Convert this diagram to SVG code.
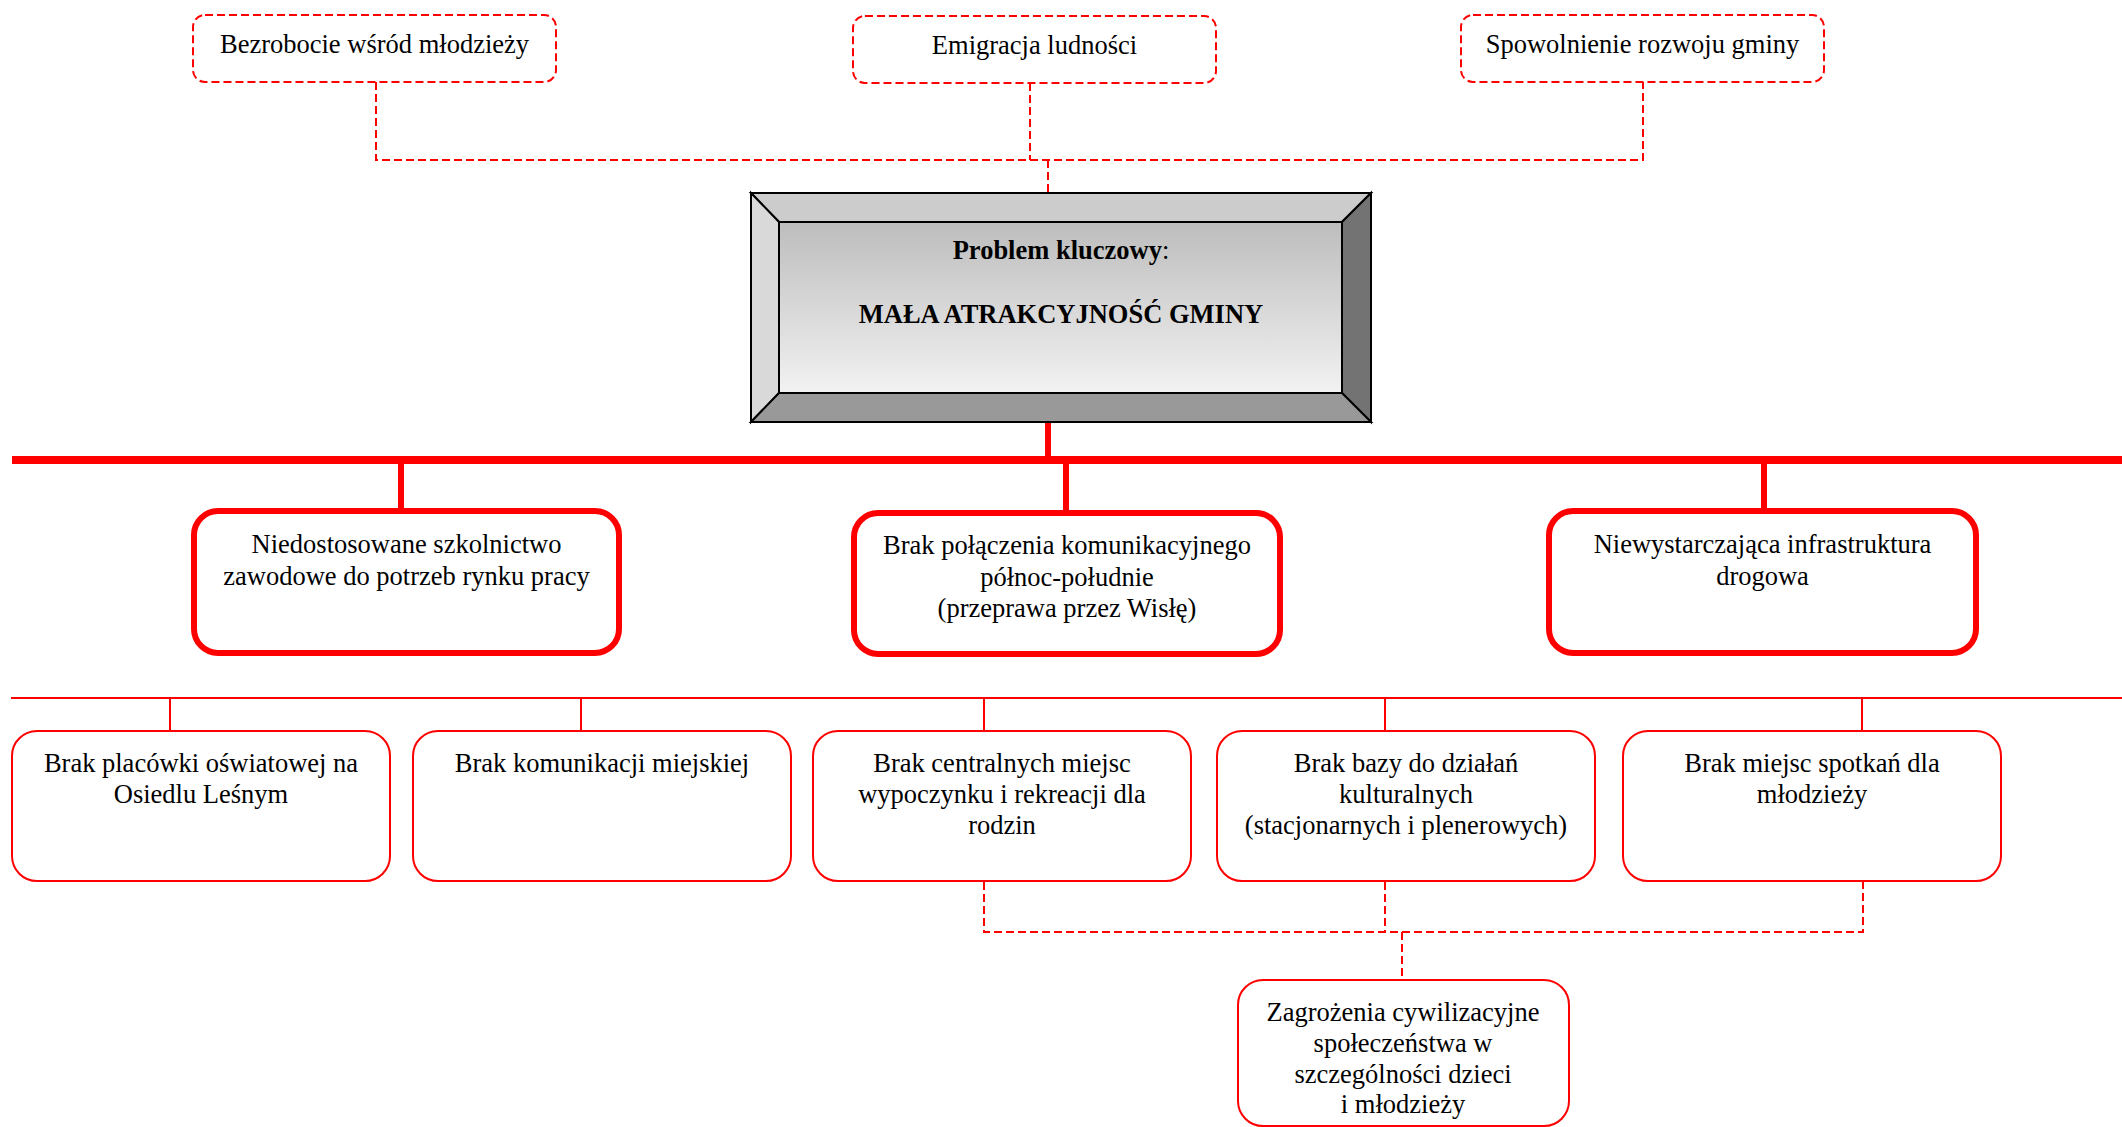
<svg xmlns="http://www.w3.org/2000/svg" width="2122" height="1127" viewBox="0 0 2122 1127">
<style>
text{font-family:"Liberation Serif","Times New Roman",serif;font-size:26.5px;fill:#000;text-anchor:middle}
.b{font-weight:bold}
.dashbox{fill:#fff;stroke:#ff0000;stroke-width:2;stroke-dasharray:8 4}
.dash{fill:none;stroke:#ff0000;stroke-width:2;stroke-dasharray:8 4}
.thick{fill:#fff;stroke:#ff0000;stroke-width:6}
.thin{fill:#fff;stroke:#ff0000;stroke-width:2}
.bar{stroke:#ff0000;stroke-width:8;fill:none}
.vbar{stroke:#ff0000;stroke-width:6;fill:none}
.tline{stroke:#ff0000;stroke-width:2;fill:none}
.bev{stroke:#000;stroke-width:2;stroke-linejoin:miter}
</style>
<defs>
<linearGradient id="g" x1="0" y1="0" x2="0" y2="1">
<stop offset="0" stop-color="#bdbdbd"/>
<stop offset="1" stop-color="#f2f2f2"/>
</linearGradient>
</defs>
<rect width="2122" height="1127" fill="#fff"/>
<g id="connectors">
<path class="dash" d="M376 82V160H1643V82M1030 83V160M1048 160V193"/>
<path class="bar" d="M12 460H2122"/>
<path class="vbar" d="M1048 422V457"/>
<path class="vbar" d="M401 464V511M1066 464V513M1764 464V511"/>
<path class="tline" d="M11 698H2122M170 698V731M581 698V731M984 698V731M1385 698V731M1862 698V731"/>
<path class="dash" d="M984 882V932H1863V882M1385 882V932M1402 932V980"/>
</g>
<g id="n-bezrobocie">
<rect class="dashbox" x="193" y="15" width="363" height="67" rx="12"/>
<text x="374.5" y="53">Bezrobocie wśród młodzieży</text>
</g>
<g id="n-emigracja">
<rect class="dashbox" x="853" y="16" width="363" height="67" rx="12"/>
<text x="1034.5" y="54">Emigracja ludności</text>
</g>
<g id="n-spowolnienie">
<rect class="dashbox" x="1461" y="15" width="363" height="67" rx="12"/>
<text x="1642.5" y="53">Spowolnienie rozwoju gminy</text>
</g>
<g id="n-problem">
<polygon class="bev" fill="#cccccc" points="751,193 1371,193 1342,222 779,222"/>
<polygon class="bev" fill="#d9d9d9" points="751,193 779,222 779,393 751,422"/>
<polygon class="bev" fill="#737373" points="1371,193 1371,422 1342,393 1342,222"/>
<polygon class="bev" fill="#999999" points="751,422 779,393 1342,393 1371,422"/>
<rect class="bev" fill="url(#g)" x="779" y="222" width="563" height="171"/>
<text x="1061" y="259"><tspan class="b">Problem kluczowy</tspan>:</text>
<text class="b" x="1061" y="323">MAŁA ATRAKCYJNOŚĆ GMINY</text>
</g>
<g id="n-szkolnictwo">
<rect class="thick" x="194" y="511" width="425" height="142" rx="24"/>
<text x="406.5" y="553">Niedostosowane szkolnictwo</text>
<text x="406.5" y="585">zawodowe do potrzeb rynku pracy</text>
</g>
<g id="n-polaczenie">
<rect class="thick" x="854" y="513" width="426" height="141" rx="24"/>
<text x="1067" y="554">Brak połączenia komunikacyjnego</text>
<text x="1067" y="586">północ-południe</text>
<text x="1067" y="617">(przeprawa przez Wisłę)</text>
</g>
<g id="n-infrastruktura">
<rect class="thick" x="1549" y="511" width="427" height="142" rx="24"/>
<text x="1762.5" y="553">Niewystarczająca infrastruktura</text>
<text x="1762.5" y="585">drogowa</text>
</g>
<g id="n-placowka">
<rect class="thin" x="12" y="731" width="378" height="150" rx="25"/>
<text x="201" y="772">Brak placówki oświatowej na</text>
<text x="201" y="803">Osiedlu Leśnym</text>
</g>
<g id="n-komunikacja">
<rect class="thin" x="413" y="731" width="378" height="150" rx="25"/>
<text x="602" y="772">Brak komunikacji miejskiej</text>
</g>
<g id="n-wypoczynek">
<rect class="thin" x="813" y="731" width="378" height="150" rx="25"/>
<text x="1002" y="772">Brak centralnych miejsc</text>
<text x="1002" y="803">wypoczynku i rekreacji dla</text>
<text x="1002" y="834">rodzin</text>
</g>
<g id="n-kultura">
<rect class="thin" x="1217" y="731" width="378" height="150" rx="25"/>
<text x="1406" y="772">Brak bazy do działań</text>
<text x="1406" y="803">kulturalnych</text>
<text x="1406" y="834">(stacjonarnych i plenerowych)</text>
</g>
<g id="n-spotkania">
<rect class="thin" x="1623" y="731" width="378" height="150" rx="25"/>
<text x="1812" y="772">Brak miejsc spotkań dla</text>
<text x="1812" y="803">młodzieży</text>
</g>
<g id="n-zagrozenia">
<rect class="thin" x="1238" y="980" width="331" height="146" rx="25"/>
<text x="1403" y="1021">Zagrożenia cywilizacyjne</text>
<text x="1403" y="1052">społeczeństwa w</text>
<text x="1403" y="1083">szczególności dzieci</text>
<text x="1403" y="1113">i młodzieży</text>
</g>
</svg>
